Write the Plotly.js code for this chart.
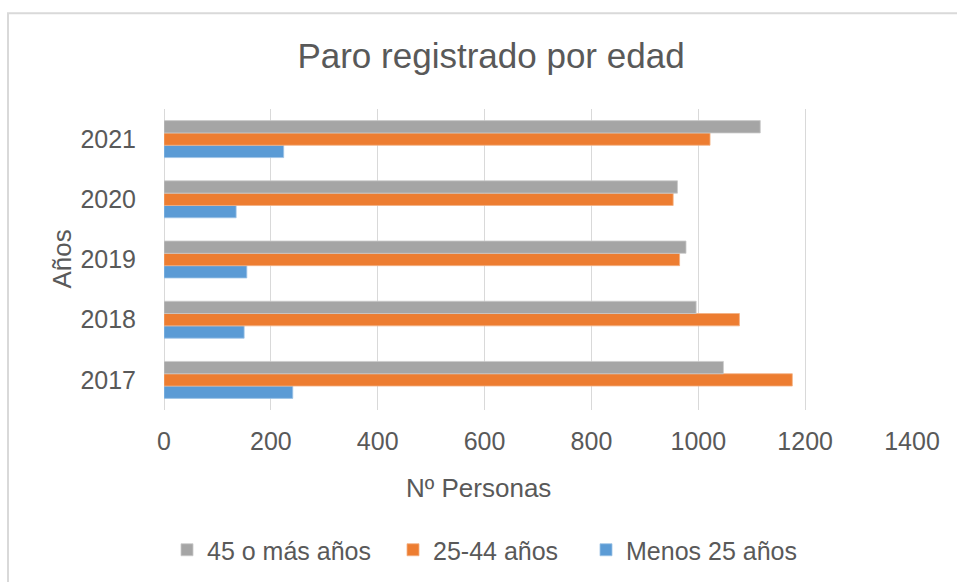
<!DOCTYPE html>
<html>
<head>
<meta charset="utf-8">
<script src="https://cdn.plot.ly/plotly-3.0.1.min.js"></script>
<style>html,body{margin:0;padding:0;background:#fff;}#chart{width:957px;height:582px;}</style>
</head>
<body>
<div id="chart"></div>
<script>
// Data
const years = ['2017', '2018', '2019', '2020', '2021'];
const menos25 = [241, 150, 155, 135, 224];
const edad25a44 = [1176, 1077, 965, 953, 1022];
const mas45 = [1047, 996, 977, 961, 1116];
const seriesNames = ['Menos 25 años', '25-44 años', '45 o más años'];
const xTicks = [0, 200, 400, 600, 800, 1000, 1200, 1400];

const textColor = '#595959';
const fontFam = '"Liberation Sans", Arial, sans-serif';

const traces = [
  {type: 'bar', orientation: 'h', name: seriesNames[0], y: years, x: menos25, legend: 'legend3',
   marker: {color: '#5b9bd5', line: {color: '#9dc3e6', width: 0.8}}},
  {type: 'bar', orientation: 'h', name: seriesNames[1], y: years, x: edad25a44, legend: 'legend2',
   marker: {color: '#ed7d31', line: {color: '#f4b183', width: 0.8}}},
  {type: 'bar', orientation: 'h', name: seriesNames[2], y: years, x: mas45, legend: 'legend',
   marker: {color: '#a5a5a5', line: {color: '#c9c9c9', width: 0.8}}}
];

function legendAt(textStart) {
  return {orientation: 'h', xref: 'container', yref: 'container', x: (textStart - 39) / 957, xanchor: 'left',
          y: 1 - 550 / 582, yanchor: 'middle', bgcolor: 'rgba(0,0,0,0)',
          font: {size: 25, color: textColor, family: fontFam}};
}

const layout = {
  width: 957, height: 582,
  margin: {l: 164, r: 45, t: 109, b: 172, pad: 0},
  paper_bgcolor: '#ffffff', plot_bgcolor: '#ffffff',
  font: {family: fontFam, color: textColor, size: 25},
  title: {text: 'Paro registrado por edad', font: {size: 35, color: textColor, family: fontFam},
          xref: 'container', yref: 'container', x: 491 / 957, xanchor: 'center',
          y: 1 - 56 / 582, yanchor: 'middle'},
  barmode: 'group', bargap: 0.386, bargroupgap: 0,
  showlegend: true,
  legend: legendAt(206),
  legend2: legendAt(432),
  legend3: legendAt(625),
  xaxis: {range: [0, 1400], tickvals: xTicks, ticktext: xTicks.map(String),
          showgrid: true, gridcolor: '#d9d9d9', gridwidth: 1,
          zeroline: true, zerolinecolor: '#d9d9d9', zerolinewidth: 1,
          showline: false, ticks: 'outside', ticklen: 9, tickcolor: 'rgba(0,0,0,0)',
          tickfont: {size: 25, color: textColor}, fixedrange: true},
  yaxis: {type: 'category', categoryorder: 'array', categoryarray: years,
          showgrid: false, zeroline: false, showline: false,
          ticks: 'outside', ticklen: 22, tickcolor: 'rgba(0,0,0,0)',
          tickfont: {size: 25, color: textColor}, fixedrange: true},
  annotations: [
    {text: 'Nº Personas', xref: 'paper', yref: 'paper', x: (478 - 164) / 748, y: -(489 - 410.5) / 301.5,
     xanchor: 'center', yanchor: 'middle', showarrow: false, font: {size: 26, color: textColor, family: fontFam}},
    {text: 'Años', xref: 'paper', yref: 'paper', x: (61 - 164) / 748, y: 0.5, textangle: -90,
     xanchor: 'center', yanchor: 'middle', showarrow: false, font: {size: 26, color: textColor, family: fontFam}}
  ],
  shapes: [
    {type: 'rect', xref: 'paper', yref: 'paper', x0: (8 - 164) / 748, x1: 2, y0: -2, y1: (410.5 - 13) / 301.5,
     line: {color: '#d9d9d9', width: 2}, fillcolor: 'rgba(0,0,0,0)', layer: 'below'}
  ]
};

Plotly.newPlot('chart', traces, layout, {displayModeBar: false, staticPlot: true});
</script>
</body>
</html>
